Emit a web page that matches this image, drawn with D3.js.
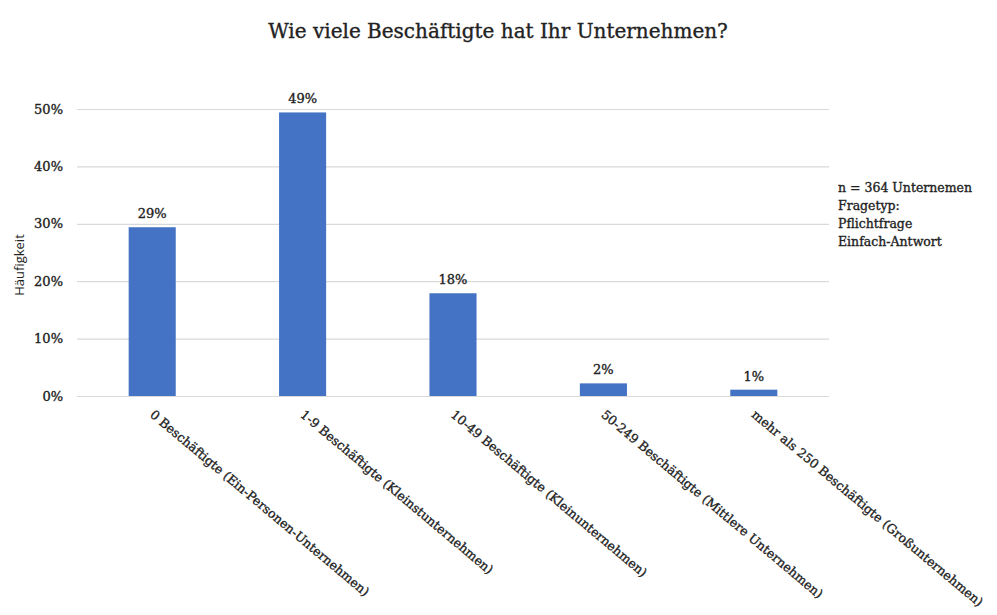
<!DOCTYPE html>
<html>
<head>
<meta charset="utf-8">
<script src="https://cdn.jsdelivr.net/npm/d3@7"></script>
<style>
  html, body { margin: 0; padding: 0; background: #fff; }
  svg { display: block; }
  text { font-family: "DejaVu Serif", "Liberation Serif", serif; fill: #222; }
  .heavy { stroke: #222; stroke-width: 0.35px; }
</style>
</head>
<body>
<svg id="chart" width="997" height="615"></svg>
<script>
// Company size categories and share of respondents (n = 364)
const categories = [
  "0 Beschäftigte (Ein-Personen-Unternehmen)",
  "1-9 Beschäftigte (Kleinstunternehmen)",
  "10-49 Beschäftigte (Kleinunternehmen)",
  "50-249 Beschäftigte (Mittlere Unternehmen)",
  "mehr als 250 Beschäftigte (Großunternehmen)"
];
const shares = [0.294, 0.494, 0.179, 0.022, 0.011];
const yTicks = [0, 0.1, 0.2, 0.3, 0.4, 0.5];
const noteLines = ["n = 364 Unternemen", "Fragetyp:", "Pflichtfrage", "Einfach-Antwort"];
const title = "Wie viele Beschäftigte hat Ihr Unternehmen?";
const yTitle = "Häufigkeit";

const svg = d3.select("#chart");
const plot = { left: 77, right: 829, top: 109, bottom: 396 };

const x = d3.scaleBand()
  .domain(categories)
  .range([plot.left, plot.right])
  .paddingInner(0.687)
  .paddingOuter(0.3435);

const y = d3.scaleLinear()
  .domain([0, 0.5])
  .range([plot.bottom, plot.top]);

const pct = d3.format(".0%");

// Title
svg.append("text")
  .attr("class", "heavy")
  .attr("x", 498).attr("y", 38)
  .attr("text-anchor", "middle")
  .style("font-size", "20px")
  .text(title);

// Horizontal gridlines + y tick labels
const yAxis = d3.axisLeft(y)
  .tickValues(yTicks)
  .tickFormat(pct)
  .tickSize(-(plot.right - plot.left))
  .tickPadding(14);

const gy = svg.append("g")
  .attr("transform", `translate(${plot.left},0)`)
  .call(yAxis);
gy.select(".domain").remove();
gy.selectAll(".tick line").attr("stroke", "#d9d9d9").attr("stroke-width", 1.2);
gy.selectAll(".tick text")
  .attr("class", "heavy")
  .style("font-size", "13px")
  .attr("fill", "#222");

// Bars
svg.append("g").selectAll("rect")
  .data(categories)
  .join("rect")
  .attr("x", d => x(d))
  .attr("width", x.bandwidth())
  .attr("y", (d, i) => y(shares[i]))
  .attr("height", (d, i) => y(0) - y(shares[i]))
  .attr("fill", "#4472c4");

// Value labels
svg.append("g").selectAll("text")
  .data(categories)
  .join("text")
  .attr("class", "heavy")
  .attr("x", d => x(d) + x.bandwidth() / 2)
  .attr("y", (d, i) => y(shares[i]) - 9)
  .attr("text-anchor", "middle")
  .style("font-size", "13px")
  .text((d, i) => pct(shares[i]));

// Category axis with rotated labels
const xAxis = d3.axisBottom(x).tickSize(0).tickPadding(0);
const gx = svg.append("g")
  .attr("transform", `translate(0,${plot.bottom})`)
  .call(xAxis);
gx.select(".domain").remove();
gx.selectAll(".tick text")
  .attr("class", "heavy")
  .attr("text-anchor", "start")
  .attr("x", 0).attr("y", 0).attr("dy", 0)
  .attr("transform", "translate(-3,20) rotate(40)")
  .style("font-size", "12.5px")
  .attr("fill", "#222");

// Y axis title
svg.append("text")
  .attr("transform", `translate(24,265) rotate(-90)`)
  .attr("text-anchor", "middle")
  .style("font-family", "'Open Sans', 'Liberation Sans', sans-serif")
  .style("font-size", "13px")
  .text(yTitle);

// Side note
svg.append("g").selectAll("text")
  .data(noteLines)
  .join("text")
  .attr("class", "heavy")
  .attr("x", 838)
  .attr("y", (d, i) => 192 + i * 18)
  .style("font-size", "12.5px")
  .text(d => d);
</script>
</body>
</html>
